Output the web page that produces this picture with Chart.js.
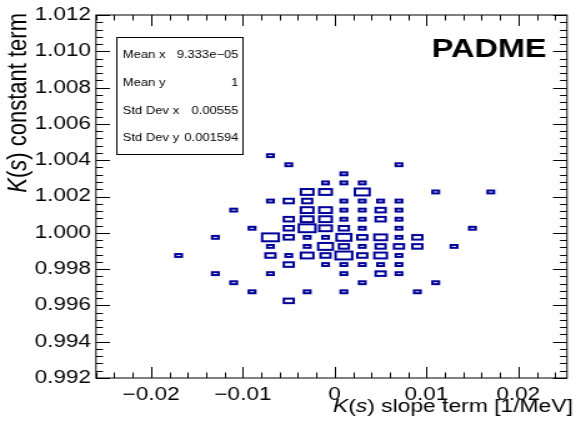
<!DOCTYPE html>
<html><head><meta charset="utf-8">
<script src="https://cdn.jsdelivr.net/npm/chart.js@4.4.1/dist/chart.umd.min.js"></script>
<style>html,body{margin:0;padding:0;background:#fff;overflow:hidden}canvas{display:block}</style>
</head><body>
<canvas id="c" width="461" height="434" style="width:576px;height:434px"></canvas>
<script>
// ---- data (bin centres and bin contents of the 2D histogram) ----
const cellX = [
 -0.007,
 -0.005, 0.007,
 0.001,
 -0.001, 0.001, 0.003,
 -0.003, -0.001, 0.003, 0.011, 0.017,
 -0.007, -0.005, -0.003, 0.001, 0.003, 0.005, 0.007,
 -0.011, -0.003, -0.001, 0.001, 0.003, 0.005, 0.007,
 -0.005, -0.003, -0.001, 0.001, 0.003, 0.005, 0.007,
 -0.009, -0.005, -0.003, -0.001, 0.001, 0.003, 0.007, 0.015,
 -0.013, -0.007, -0.005, -0.003, -0.001, 0.001, 0.003, 0.005, 0.007, 0.009,
 -0.007, -0.003, -0.001, 0.001, 0.003, 0.005, 0.007, 0.009, 0.013,
 -0.017, -0.007, -0.005, -0.003, -0.001, 0.001, 0.003, 0.005, 0.007,
 -0.005, -0.001, 0.001, 0.003, 0.005, 0.007,
 -0.013, -0.007, 0.001, 0.005, 0.007,
 -0.011, 0.003, 0.011,
 -0.009, -0.003, 0.001, 0.009,
 -0.005
];
const cellY = [
 1.00425,
 1.00375, 1.00375,
 1.00325,
 1.00275, 1.00275, 1.00275,
 1.00225, 1.00225, 1.00225, 1.00225, 1.00225,
 1.00175, 1.00175, 1.00175, 1.00175, 1.00175, 1.00175, 1.00175,
 1.00125, 1.00125, 1.00125, 1.00125, 1.00125, 1.00125, 1.00125,
 1.00075, 1.00075, 1.00075, 1.00075, 1.00075, 1.00075, 1.00075,
 1.00025, 1.00025, 1.00025, 1.00025, 1.00025, 1.00025, 1.00025, 1.00025,
 0.99975, 0.99975, 0.99975, 0.99975, 0.99975, 0.99975, 0.99975, 0.99975, 0.99975, 0.99975,
 0.99925, 0.99925, 0.99925, 0.99925, 0.99925, 0.99925, 0.99925, 0.99925, 0.99925,
 0.99875, 0.99875, 0.99875, 0.99875, 0.99875, 0.99875, 0.99875, 0.99875, 0.99875,
 0.99825, 0.99825, 0.99825, 0.99825, 0.99825, 0.99825,
 0.99775, 0.99775, 0.99775, 0.99775, 0.99775,
 0.99725, 0.99725, 0.99725,
 0.99675, 0.99675, 0.99675, 0.99675,
 0.99625
];
const cellCount = [
 1,
 1, 1,
 1,
 1, 1, 1,
 3, 3, 4, 1, 1,
 1, 2, 2, 1, 1, 1, 1,
 1, 3, 3, 1, 1, 2, 1,
 2, 3, 3, 1, 1, 2, 1,
 1, 2, 5, 3, 2, 1, 1, 1,
 1, 5, 2, 1, 1, 4, 2, 3, 1, 2,
 1, 1, 4, 2, 1, 2, 2, 2, 1,
 1, 2, 1, 3, 2, 5, 2, 3, 1,
 2, 1, 1, 1, 1, 1,
 1, 1, 1, 2, 1,
 1, 1, 1,
 1, 1, 1, 1,
 2
];
const xBinWidth = 0.002;
const yBinWidth = 0.0005;

const xTickValues = [-0.02, -0.01, 0, 0.01, 0.02];
const xTickLabels = ['\u22120.02', '\u22120.01', '0', '0.01', '0.02'];
const yTickValues = [0.992, 0.994, 0.996, 0.998, 1.000, 1.002, 1.004, 1.006, 1.008, 1.010, 1.012];
const yTickLabels = ['0.992', '0.994', '0.996', '0.998', '1.000', '1.002', '1.004', '1.006', '1.008', '1.010', '1.012'];

const statNames = ['Mean x', 'Mean y', 'Std Dev x', 'Std Dev y'];
const statValues = ['9.333e\u221205', '1', '0.00555', '0.001594'];

const xTitleParts = [['K', true], ['(', false], ['s', true], [') slope term [1/MeV]', false]];
const yTitleParts = [['K', true], ['(', false], ['s', true], [') constant term', false]];
const experimentLabel = 'PADME';

// ---- style ----
const FONT = '"Liberation Sans", Arial, Helvetica, sans-serif';
const BOX_COLOR = '#000099';

function drawParts(ctx, parts, size, x, y, alignRight) {
  let total = 0;
  const widths = parts.map(([t, it]) => {
    ctx.font = (it ? 'italic ' : '') + size + 'px ' + FONT;
    const w = ctx.measureText(t).width; total += w; return w;
  });
  let cx = alignRight ? x - total : x;
  parts.forEach(([t, it], i) => {
    ctx.font = (it ? 'italic ' : '') + size + 'px ' + FONT;
    ctx.fillText(t, cx, y); cx += widths[i];
  });
}

const rootPlugin = {
  id: 'rootStyle',
  afterDatasetsDraw(chart) {
    const {ctx, chartArea: a, scales: {x, y}} = chart;
    // boxes
    const zmax = Math.max(...cellCount);
    ctx.save();
    ctx.strokeStyle = BOX_COLOR;
    ctx.lineWidth = 2;
    chart.data.datasets[0].data.forEach(p => {
      const f = Math.sqrt(p.z / zmax);
      const x0 = x.getPixelForValue(p.x - f * xBinWidth / 2);
      const x1 = x.getPixelForValue(p.x + f * xBinWidth / 2);
      const y0 = y.getPixelForValue(p.y + f * yBinWidth / 2);
      const y1 = y.getPixelForValue(p.y - f * yBinWidth / 2);
      const ix = 0.7, iy = 0.6;
      ctx.strokeRect(x0 + ix, y0 + iy, x1 - x0 - 2 * ix, y1 - y0 - 2 * iy);
    });
    ctx.restore();

    // frame + ticks
    ctx.save();
    ctx.strokeStyle = '#000';
    ctx.lineWidth = 1;
    ctx.strokeRect(a.left, a.top, a.right - a.left, a.bottom - a.top);
    ctx.beginPath();
    for (let k = -13; k <= 12; k++) {
      const v = k * 0.002;
      const px = Math.round(x.getPixelForValue(v)) + 0.5;
      if (px < a.left || px > a.right) continue;
      const len = (k % 5 === 0) ? 11 : 5.5;
      ctx.moveTo(px, a.bottom); ctx.lineTo(px, a.bottom - len);
      ctx.moveTo(px, a.top); ctx.lineTo(px, a.top + len);
    }
    for (let k = 0; k <= 50; k++) {
      const v = 0.992 + k * 0.0004;
      const py = Math.round(y.getPixelForValue(v)) + 0.5;
      const len = (k % 5 === 0) ? 11.2 : 5.6;
      ctx.moveTo(a.left, py); ctx.lineTo(a.left + len, py);
      ctx.moveTo(a.right, py); ctx.lineTo(a.right - len, py);
    }
    ctx.stroke();
    ctx.restore();

    // stats box
    ctx.save();
    ctx.fillStyle = '#fff';
    ctx.fillRect(93.6, 37, 101, 117);
    ctx.strokeStyle = '#000'; ctx.lineWidth = 1;
    ctx.strokeRect(93.5, 37.5, 101, 117);
    ctx.fillStyle = '#000';
    ctx.font = '10.4px ' + FONT;
    const rows = [57.8, 85.5, 113.8, 141.2];
    statNames.forEach((n, i) => {
      ctx.textAlign = 'left'; ctx.fillText(n, 98.3, rows[i]);
      ctx.textAlign = 'right'; ctx.fillText(statValues[i], 190.8, rows[i]);
    });
    ctx.restore();

    // experiment label
    ctx.save();
    ctx.fillStyle = '#000';
    ctx.font = 'bold 26px ' + FONT;
    ctx.textAlign = 'left';
    ctx.fillText(experimentLabel, 345.5, 57);
    ctx.restore();

    // axis titles
    ctx.save();
    ctx.fillStyle = '#000';
    ctx.textBaseline = 'alphabetic';
    ctx.textAlign = 'left';
    drawParts(ctx, xTitleParts, 18.3, 458.5, 412, true);
    ctx.translate(20.5, a.top - 2);
    ctx.rotate(-Math.PI / 2);
    drawParts(ctx, yTitleParts, 22, 0, 0, true);
    ctx.restore();
  }
};

new Chart(document.getElementById('c'), {
  type: 'scatter',
  data: {
    datasets: [{
      data: cellX.map((v, i) => ({x: v, y: cellY[i], z: cellCount[i]})),
      pointRadius: 0, pointHoverRadius: 0, showLine: false
    }]
  },
  options: {
    responsive: false, animation: false, devicePixelRatio: 1,
    events: [],
    layout: {padding: {left: 0, right: 7.2, top: 15, bottom: 0}},
    plugins: {legend: {display: false}, tooltip: {enabled: false}},
    scales: {
      x: {
        type: 'linear', min: -0.026, max: 0.0253,
        grid: {display: false, drawTicks: false}, border: {display: false},
        afterBuildTicks: s => { s.ticks = xTickValues.map(v => ({value: v})); },
        afterFit: s => { s.height = 56; },
        ticks: {autoSkip: false, maxRotation: 0, padding: 6, color: '#000',
                font: {family: FONT, size: 18},
                callback: (v, i) => xTickLabels[i]}
      },
      y: {
        type: 'linear', min: 0.992, max: 1.012,
        grid: {display: false, drawTicks: false}, border: {display: false},
        afterBuildTicks: s => { s.ticks = yTickValues.map(v => ({value: v})); },
        afterFit: s => { s.width = 76.8; },
        ticks: {autoSkip: false, padding: 4, color: '#000',
                font: {family: FONT, size: 18},
                callback: (v, i) => yTickLabels[i]}
      }
    }
  },
  plugins: [rootPlugin]
});
</script>
</body></html>
